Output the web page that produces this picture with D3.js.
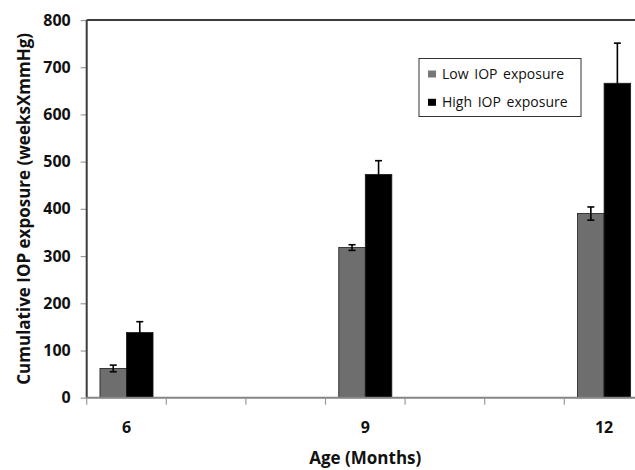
<!DOCTYPE html>
<html>
<head>
<meta charset="utf-8">
<script src="https://cdn.jsdelivr.net/npm/d3@7"></script>
<style>
  body { margin: 0; background: #fff; }
  svg { display: block; font-family: "Open Sans", "Noto Sans", sans-serif; }
</style>
</head>
<body>
<div id="chart"></div>
<script>
// categories on the x axis (Excel-style, one band per month)
const ageCategories = ["6", "7", "8", "9", "10", "11", "12"];
const ageLabels = ["6", "9", "12"];
const measuredAges = ["6", "9", "12"];

// series
const seriesNames = ["Low IOP exposure", "High IOP exposure"];
const lowMean = [62, 318, 390];
const lowErr = [7, 6, 14];
const highMean = [138, 473, 666];
const highErr = [23, 29, 85];

const yTicks = [0, 100, 200, 300, 400, 500, 600, 700, 800];

const width = 635, height = 470;
const margin = { top: 20, left: 86.7, bottom: 72.3 };
const plotW = 557.2; // seven bands, last one runs past the window
const plotH = height - margin.top - margin.bottom;

const colors = { low: "#6e6e6e", high: "#000000" };

const svg = d3.select("#chart").append("svg")
  .attr("width", width)
  .attr("height", height);

const g = svg.append("g")
  .attr("transform", "translate(" + margin.left + "," + margin.top + ")");

const x = d3.scaleBand()
  .domain(ageCategories)
  .range([0, plotW])
  .paddingInner(0)
  .paddingOuter(0);

const x1 = d3.scaleBand()
  .domain(["low", "high"])
  .range([0, x.bandwidth()])
  .paddingInner(0)
  .paddingOuter(0.5);

const y = d3.scaleLinear()
  .domain([0, 800])
  .range([plotH, 0]);

// rows for bars
const rows = measuredAges.map((a, i) => ({
  age: a,
  values: [
    { key: "low", mean: lowMean[i], err: lowErr[i] },
    { key: "high", mean: highMean[i], err: highErr[i] }
  ]
}));

// y axis
const yAxis = d3.axisLeft(y)
  .tickValues(yTicks)
  .tickSize(6)
  .tickPadding(10)
  .tickFormat(d3.format("d"));

const yg = g.append("g").attr("class", "y-axis").call(yAxis);
yg.select(".domain").remove();
yg.selectAll(".tick line").attr("stroke", "#9a9a9a").attr("stroke-width", 1.2);
yg.selectAll(".tick text")
  .attr("font-size", 16)
  .attr("font-weight", "bold")
  .attr("fill", "#111")
  .attr("font-family", "'Open Sans', sans-serif");

// frame (top + left)
g.append("line")
  .attr("x1", 0).attr("x2", plotW)
  .attr("y1", 0).attr("y2", 0)
  .attr("stroke", "#3c3c3c").attr("stroke-width", 2);
g.append("line")
  .attr("x1", 0).attr("x2", 0)
  .attr("y1", 0).attr("y2", plotH)
  .attr("stroke", "#3c3c3c").attr("stroke-width", 2);

// bars
const groups = g.selectAll(".age-group")
  .data(rows)
  .enter().append("g")
  .attr("class", "age-group")
  .attr("transform", d => "translate(" + x(d.age) + ",0)");

groups.selectAll("rect")
  .data(d => d.values)
  .enter().append("rect")
  .attr("x", d => x1(d.key))
  .attr("width", x1.bandwidth())
  .attr("y", d => y(d.mean))
  .attr("height", d => plotH - y(d.mean))
  .attr("fill", d => colors[d.key])
  .attr("stroke", "#1a1a1a")
  .attr("stroke-width", 0.8);

// error bars
const capW = 3.5;
const err = groups.selectAll(".err")
  .data(d => d.values)
  .enter().append("g")
  .attr("class", "err")
  .attr("transform", d => "translate(" + (x1(d.key) + x1.bandwidth() / 2) + ",0)");

err.append("line")
  .attr("x1", 0).attr("x2", 0)
  .attr("y1", d => y(d.mean - d.err))
  .attr("y2", d => y(d.mean + d.err))
  .attr("stroke", "#000").attr("stroke-width", 1.6);
err.append("line")
  .attr("x1", -capW).attr("x2", capW)
  .attr("y1", d => y(d.mean + d.err))
  .attr("y2", d => y(d.mean + d.err))
  .attr("stroke", "#000").attr("stroke-width", 1.6);
err.append("line")
  .attr("x1", -capW).attr("x2", capW)
  .attr("y1", d => y(d.mean - d.err))
  .attr("y2", d => y(d.mean - d.err))
  .attr("stroke", "#000").attr("stroke-width", 1.6);

// x axis: line, boundary ticks, labels
const xg = g.append("g").attr("class", "x-axis")
  .attr("transform", "translate(0," + plotH + ")");

xg.append("line")
  .attr("x1", 0).attr("x2", plotW)
  .attr("stroke", "#858585").attr("stroke-width", 2);

xg.selectAll(".bound")
  .data(ageCategories)
  .enter().append("line")
  .attr("class", "bound")
  .attr("x1", d => x(d)).attr("x2", d => x(d))
  .attr("y1", 0).attr("y2", 7)
  .attr("stroke", "#9a9a9a").attr("stroke-width", 1.2);

xg.selectAll(".xlabel")
  .data(ageLabels)
  .enter().append("text")
  .attr("class", "xlabel")
  .attr("x", d => x(d) + x.bandwidth() / 2)
  .attr("y", 35.5)
  .attr("text-anchor", "middle")
  .attr("font-size", 16)
  .attr("font-weight", "bold")
  .attr("fill", "#111")
  .text(d => d);

// axis titles
svg.append("text")
  .attr("x", x("9") + margin.left + x.bandwidth() / 2)
  .attr("y", 464)
  .attr("text-anchor", "middle")
  .attr("font-size", 17)
  .attr("font-weight", "bold")
  .attr("fill", "#111")
  .text("Age (Months)");

svg.append("text")
  .attr("transform", "translate(30," + (margin.top + plotH / 2) + ") rotate(-90)")
  .attr("text-anchor", "middle")
  .attr("font-size", 17)
  .attr("font-weight", "bold")
  .attr("fill", "#111")
  .text("Cumulative IOP exposure (weeksXmmHg)");

// legend
const legend = svg.append("g").attr("transform", "translate(419,58.5)");
legend.append("rect")
  .attr("width", 162).attr("height", 58)
  .attr("fill", "#fff")
  .attr("stroke", "#333").attr("stroke-width", 1);

const items = legend.selectAll(".item")
  .data(seriesNames)
  .enter().append("g")
  .attr("class", "item")
  .attr("transform", (d, i) => "translate(9," + (20 + i * 28.3) + ")");

items.append("rect")
  .attr("x", 0).attr("y", -8)
  .attr("width", 8).attr("height", 7)
  .attr("fill", (d, i) => i === 0 ? "#777" : "#000");

items.append("text")
  .attr("x", 14)
  .attr("y", 0)
  .attr("font-size", 14)
  .attr("fill", "#111")
  .attr("word-spacing", 2)
  .text(d => d);
</script>
</body>
</html>
